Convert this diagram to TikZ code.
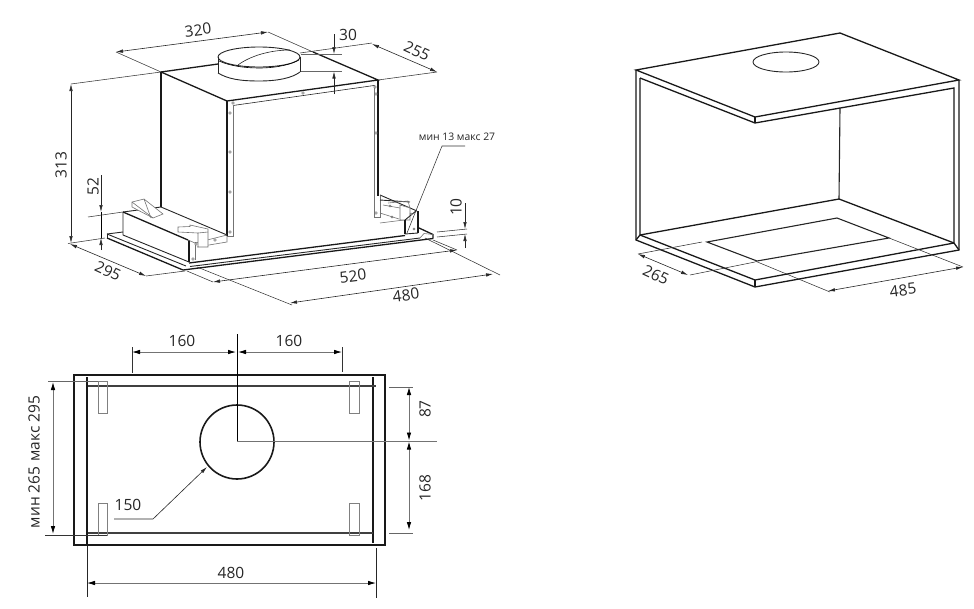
\documentclass[tikz,border=0pt]{standalone}
\usepackage{fontspec}
\setmainfont{Open Sans}
\usetikzlibrary{arrows.meta}
\tikzset{
 tk/.style={line width=1.3pt,black!90,line join=miter},
 md/.style={line width=.9pt,black!85},
 tn/.style={line width=.6pt,black!85},
 gy/.style={line width=.6pt,black!55},
 ext/.style={line width=.55pt,black!80},
 dim/.style={line width=.6pt,black!85,{Latex[length=7pt,width=3.5pt]}-{Latex[length=7pt,width=3.5pt]}},
 dimr/.style={line width=.6pt,black!85,-{Latex[length=7pt,width=3.5pt]}},
 dimg/.style={line width=.8pt,black!55,{Latex[length=8pt,width=4.5pt,color=black]}-{Latex[length=8pt,width=4.5pt,color=black]}},
 lab/.style={font=\fontsize{15.5}{15.5}\selectfont,text=black!85,inner sep=0pt},
 screw/.style={line width=.4pt,black!70,fill=white},
}
\begin{document}
\begin{tikzpicture}[x=1pt,y=-1pt]
\useasboundingbox (0,0) rectangle (974,608);
% ===== upper-left: unit
% duct
\draw[md] (218,57) -- (218,73);
\draw[md] (300,57) -- (300,72);
\draw[md] (218,73) .. controls (228,79) and (240,81) .. (259,81) .. controls (278,81) and (292,78) .. (300,72);
\draw[md] (259,57) ellipse[x radius=41,y radius=10];
\draw[line width=.6pt] (219,61) .. controls (230,66) and (245,68) .. (259,68) .. controls (278,68) and (292,64) .. (299,60);
\draw[tn] (238,65) .. controls (250,56) and (270,50) .. (290,50);
% top face
\draw[tk] (161,72) -- (218,64);
\draw[tk] (161,72) -- (227,101) -- (378,80) -- (313,52);
\draw[tn] (233,105.5) -- (374,85.5);
% extension lines at the top
\draw[ext] (116,52) -- (161,72);
\draw[ext] (268,32) -- (313,52);
\draw[ext] (300,53) -- (372,43);
\draw[ext] (378,80) -- (437,72);
\draw[ext] (71,84) -- (161,72);
% box verticals
\draw[tk] (161,72) -- (161,207);
\draw[tk] (227,101) -- (227,236);
\draw[gy] (233,105) -- (233,236) -- (227,236);
\draw[tk] (378,80) -- (378,196);
\draw[gy] (374,85) -- (374,217) -- (380,217) -- (380,196);
\foreach \px/\py in {230/113,230/152,230/192,230/232,375/87,376/94,376/133,376/213,303/93,233/103}
  \draw[screw] (\px,\py) circle[radius=1.3];
% left-hand housing
\draw[md] (123,212) -- (161,207);
\draw[md] (161,207) -- (227,235);
\draw[tk] (123,212) -- (188,240);
\draw[md] (123,212) -- (123,235) -- (189,262);
\draw[tk] (189,240) -- (189,262);
\draw[gy] (195,242) -- (195,260);
\draw[gy] (188,240) -- (195,243) -- (227,235);
\draw[gy] (197,247) -- (227,242) -- (227,236);
\foreach \px/\py in {196/244,193/259,215/240}
  \draw[screw] (\px,\py) circle[radius=1.3];
% handle on housing
\draw[gy,fill=white] (132,202) -- (144,199) -- (163,214) -- (153,218) -- (132,207) -- cycle;
\draw[gy] (132,202) -- (153,218);
\draw[gy] (144,199) -- (151,218);
% clip near front
\draw[gy,fill=white] (178,227) -- (190,226.5) -- (190,225) -- (208,229) -- (208,247) -- (198,247) -- (198,233) -- (178,232) -- cycle;
\draw[gy] (198,233) -- (208,232);
% right housing
\draw[md] (380,195) -- (417,211);
\draw[md] (380,200) -- (410,202);
\draw[gy] (380,213) -- (399,219);
\draw[gy] (380,223) -- (404,220);
\draw[gy] (388,203) -- (408,201) -- (410,208);
\draw[gy,fill=white] (400,205) -- (410,208) -- (410,220) -- (400,220) -- cycle;
\draw[gy] (383,205) -- (400,208);
\draw[tk] (418,211) -- (418,233);
\draw[tk] (405,220) -- (405,234);
\draw[md] (405,220) -- (416,211);
\draw[md] (405,234) -- (418,233);
\foreach \px/\py in {390/206,392/217,414/229,411/214}
  \draw[screw] (\px,\py) circle[radius=1.2];
% plate
\draw[md] (107,234) -- (123,232);
\draw[md] (107,234) -- (107,238);
\draw[md] (107,234) -- (186,266);
\draw[tk] (107,238) -- (183,270);
\draw[tk] (189,263) -- (405,235.5);
\draw[md] (190,266.5) -- (420,238);
\draw[tk] (183,270) -- (433,238.5);
\draw[tk] (418,227.5) -- (433,234.5) -- (433,238.5);
\draw[gy] (420,238) -- (424,233.5) -- (433,234.5);
% 320
\draw[dim] (116,52) -- (268,32);
\node[lab,rotate=7] (t320) at (198,30) {320};
% 255
\draw[dim] (372,44) -- (437,72);
\node[lab,rotate=-25] (t255) at (417,51) {255};
% 30
\draw[ext,black!60] (301,54) -- (342,54);
\draw[ext,black!60] (301,71) -- (342,71);
\draw[dimr] (334,34) -- (334,54);
\draw[dimr] (334,94) -- (334,71.5);
\node[lab] (t30) at (348,35) {30};
% 313
\draw[dim] (71,84) -- (71,243);
\node[lab,rotate=90] (t313) at (61,165) {313};
\draw[ext] (68,243.5) -- (105,238);
% 52
\draw[dimr] (101,175) -- (101,212);
\draw[dimr] (101,250) -- (101,238);
\draw[line width=.9pt] (101,212) -- (101,238);
\draw[ext] (88,217) -- (123,212);
\node[lab,rotate=90] (t52) at (93,187) {52};
% 295
\draw[dim] (70,244) -- (146,276);
\draw[ext] (146,276) -- (185,271);
\node[lab,rotate=-25] (t295) at (108,271) {295};
% 520
\draw[dim] (213,282) -- (457,250);
\draw[ext] (187,271) -- (213,282);
\draw[ext] (433,240) -- (457,250);
\node[lab,rotate=7] (t520) at (353,276) {520};
% 480
\draw[dim] (290,303) -- (493,274);
\draw[ext] (197,267) -- (292,305);
\draw[ext] (425,238) -- (500,275);
\node[lab,rotate=7] (t480a) at (406,295) {480};
% 10
\draw[dimr] (465,203) -- (465,229);
\draw[dimr] (465,248) -- (465,234);
\draw[ext] (437,232) -- (467,229);
\draw[ext] (437,237) -- (467,234);
\node[lab,rotate=90] (t10) at (456,207) {10};
% leader
\node[inner sep=0pt,font=\fontsize{10.4}{10.4}\selectfont,text=black!85] (tmin) at (457,137) {мин 13 макс 27};
\draw[ext] (465,146) -- (442,146) -- (407,233);
% ===== upper-right: niche
\draw[tk] (636,70) -- (840,33) -- (959,80) -- (755,117) -- cycle;
\draw[md] (786,62) ellipse[x radius=33,y radius=10];
\draw[tk] (636,70) -- (636,240) -- (755,287) -- (959,250) -- (959,80);
\draw[tk] (755,117) -- (755,123);
\draw[tk] (640,78) -- (755,123) -- (954,88) -- (954,243);
\draw[tk] (640,78) -- (640,235) -- (755,280) -- (954,243);
\draw[tk] (755,280) -- (755,287);
\draw[tk] (636,240) -- (640,235);
\draw[tk] (954,243) -- (959,250);
\draw[md,line width=1.1pt] (840,108) -- (839,199);
\draw[tk] (640,235) -- (839,199) -- (954,243);
\draw[md,line width=1.1pt] (707,242) -- (837,218) -- (889,238) -- (757,261) -- cycle;
\draw[ext] (702,242) -- (638,254);
\draw[ext] (755,262) -- (690,275);
\draw[dim] (638,254) -- (688,275);
\node[lab,rotate=-25] (t265) at (656,275) {265};
\draw[ext] (755,261) -- (830,292);
\draw[ext] (889,238) -- (963,267);
\draw[dim] (828,291) -- (963,267);
\node[lab,rotate=7] (t485) at (903,290) {485};
% ===== bottom: plan
\draw[tk,line width=1.8pt] (74,375) rectangle (385,545);
\draw[tk] (87,377) -- (87,546);
\draw[tn] (87,546) -- (87,597);
\draw[tk] (373,377) -- (373,543);
\draw[tn] (376,548) -- (376,598);
\draw[line width=1.2pt,black!75] (88,386) -- (376,386);
\draw[line width=1.2pt,black!75] (88,533) -- (373,533);
\draw[tk,line width=1.6pt] (237,442) circle[radius=37];
\draw[line width=.7pt,black!50] (98,381) rectangle (107,413);
\draw[line width=.7pt,black!50] (98,503) rectangle (107,535);
\draw[line width=.7pt,black!50] (349,381) rectangle (359,413);
\draw[line width=.7pt,black!50] (349,503) rectangle (359,535);
\draw[ext,black!60] (48,381) -- (98,381);
\draw[ext] (45,535) -- (107,535);
\draw[dimg] (53,382) -- (53,534);
\node[lab,rotate=90] (tmm) at (34,462) {мин 265\hspace{5pt}макс 295};
\draw[ext] (132,347) -- (132,373);
\draw[ext] (342,347) -- (342,372);
\draw[line width=.8pt] (237,334) -- (237,441);
\draw[line width=.8pt,black!55] (237,441) -- (437,441);
\draw[dimg] (132,352) -- (236,352);
\draw[dimg] (238,352) -- (342,352);
\node[lab] (t160a) at (182,341) {160};
\node[lab] (t160b) at (289,341) {160};
\draw[dimr] (114,519) -- (153,519) -- (207,467);
\node[lab] (t150) at (128,505) {150};
\draw[dimg] (87,583) -- (376,583);
\node[lab] (t480b) at (231,573) {480};
\draw[ext,black!60] (389,387) -- (413,387);
\draw[ext,black!60] (389,533) -- (413,533);
\draw[dimg] (409,387) -- (409,440.5);
\draw[dimg] (409,441.5) -- (409,530);
\node[lab,rotate=90] (t87) at (425,409) {87};
\node[lab,rotate=90] (t168) at (425,488) {168};
\end{tikzpicture}
\end{document}
